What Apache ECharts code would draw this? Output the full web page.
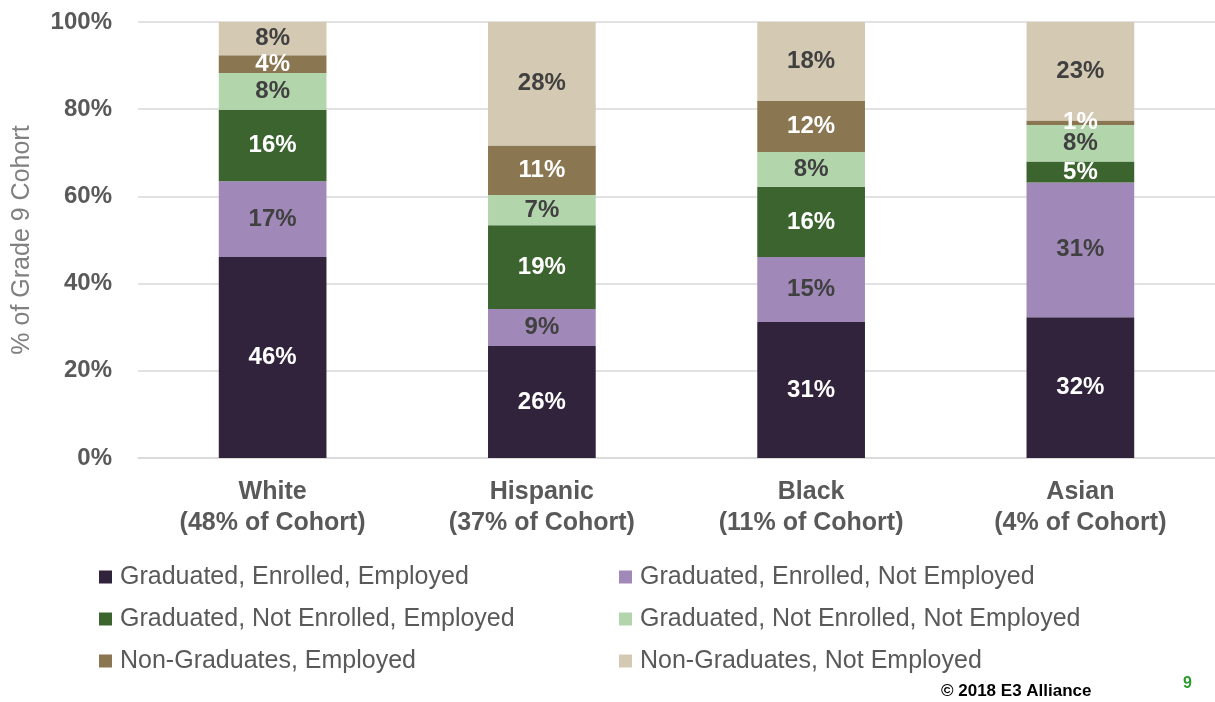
<!DOCTYPE html>
<html>
<head>
<meta charset="utf-8">
<script src="https://cdn.jsdelivr.net/npm/echarts@6/dist/echarts.min.js"></script>
<style>
html,body{margin:0;padding:0;background:#fff;}
#chart{width:1215px;height:702px;}
</style>
</head>
<body>
<div id="chart"></div>
<script>
const categories = ['White\n(48% of Cohort)', 'Hispanic\n(37% of Cohort)', 'Black\n(11% of Cohort)', 'Asian\n(4% of Cohort)'];
const seriesNames = [
  'Graduated, Enrolled, Employed',
  'Graduated, Enrolled, Not Employed',
  'Graduated, Not Enrolled, Employed',
  'Graduated, Not Enrolled, Not Employed',
  'Non-Graduates, Employed',
  'Non-Graduates, Not Employed'
];
const gradEnrolledEmployed = [46.1, 25.7, 31.2, 32.3];
const gradEnrolledNotEmployed = [17.4, 8.5, 14.9, 30.9];
const gradNotEnrolledEmployed = [16.4, 19.2, 16.1, 4.8];
const gradNotEnrolledNotEmployed = [8.4, 6.9, 8.0, 8.4];
const nonGradEmployed = [4.1, 11.4, 11.7, 1.0];
const nonGradNotEmployed = [7.6, 28.3, 18.1, 22.6];
const yTicks = [0, 20, 40, 60, 80, 100];

const values = [gradEnrolledEmployed, gradEnrolledNotEmployed, gradNotEnrolledEmployed,
  gradNotEnrolledNotEmployed, nonGradEmployed, nonGradNotEmployed];
const colors = ['#30233b', '#a089b8', '#3c642f', '#b3d5ac', '#8a7650', '#d4cab3'];
const labelColors = ['#ffffff', '#404040', '#ffffff', '#404040', '#ffffff', '#404040'];
const FONT = 'Liberation Sans, Arial, sans-serif';

const chart = echarts.init(document.getElementById('chart'));
const series = seriesNames.map((name, i) => ({
  name: name,
  type: 'bar',
  stack: 'total',
  barWidth: '40%',
  data: values[i],
  itemStyle: { color: colors[i] },
  label: {
    show: true,
    position: 'inside',
    formatter: p => Math.round(p.value) + '%',
    color: labelColors[i],
    fontFamily: FONT,
    fontWeight: 'bold',
    fontSize: 24
  }
}));

const legendText = { fontFamily: FONT, fontSize: 25, color: '#595959', lineHeight: 30, padding: [0, 0, 0, 3] };

chart.setOption({
  animation: false,
  color: colors,
  grid: { left: 138, top: 22, width: 1080, height: 436 },
  legend: [
    {
      data: [seriesNames[0], seriesNames[2], seriesNames[4]],
      orient: 'vertical', left: 99, top: 562, padding: 0,
      itemWidth: 13, itemHeight: 13, itemGap: 12, icon: 'rect',
      textStyle: legendText
    },
    {
      data: [seriesNames[1], seriesNames[3], seriesNames[5]],
      orient: 'vertical', left: 619, top: 562, padding: 0,
      itemWidth: 13, itemHeight: 13, itemGap: 12, icon: 'rect',
      textStyle: legendText
    }
  ],
  xAxis: {
    type: 'category',
    data: categories,
    axisTick: { show: false },
    axisLine: { show: true, lineStyle: { color: '#d9d9d9', width: 1.5 } },
    axisLabel: {
      margin: 19,
      fontFamily: FONT,
      fontWeight: 'bold', fontSize: 25, lineHeight: 31, color: '#595959'
    }
  },
  yAxis: {
    type: 'value',
    min: yTicks[0], max: yTicks[yTicks.length - 1], interval: 20,
    name: '% of Grade 9 Cohort',
    nameLocation: 'middle',
    nameGap: 103,
    nameTextStyle: { fontFamily: FONT, fontSize: 25, color: '#808080' },
    axisLine: { show: false },
    axisTick: { show: false },
    splitLine: { lineStyle: { color: '#d9d9d9', width: 1.5 } },
    axisLabel: {
      margin: 26,
      formatter: v => v + '%',
      fontFamily: FONT,
      fontWeight: 'bold', fontSize: 24, color: '#595959'
    }
  },
  graphic: [
    { type: 'text', left: 941, top: 683, style: { text: '© 2018 E3 Alliance', fontFamily: FONT, fontWeight: 'bold', fontSize: 17, fill: '#000' } },
    { type: 'text', left: 1183, top: 676, style: { text: '9', fontFamily: FONT, fontWeight: 'bold', fontSize: 16, fill: '#2e9a2e' } }
  ],
  series: series
});
</script>
</body>
</html>
